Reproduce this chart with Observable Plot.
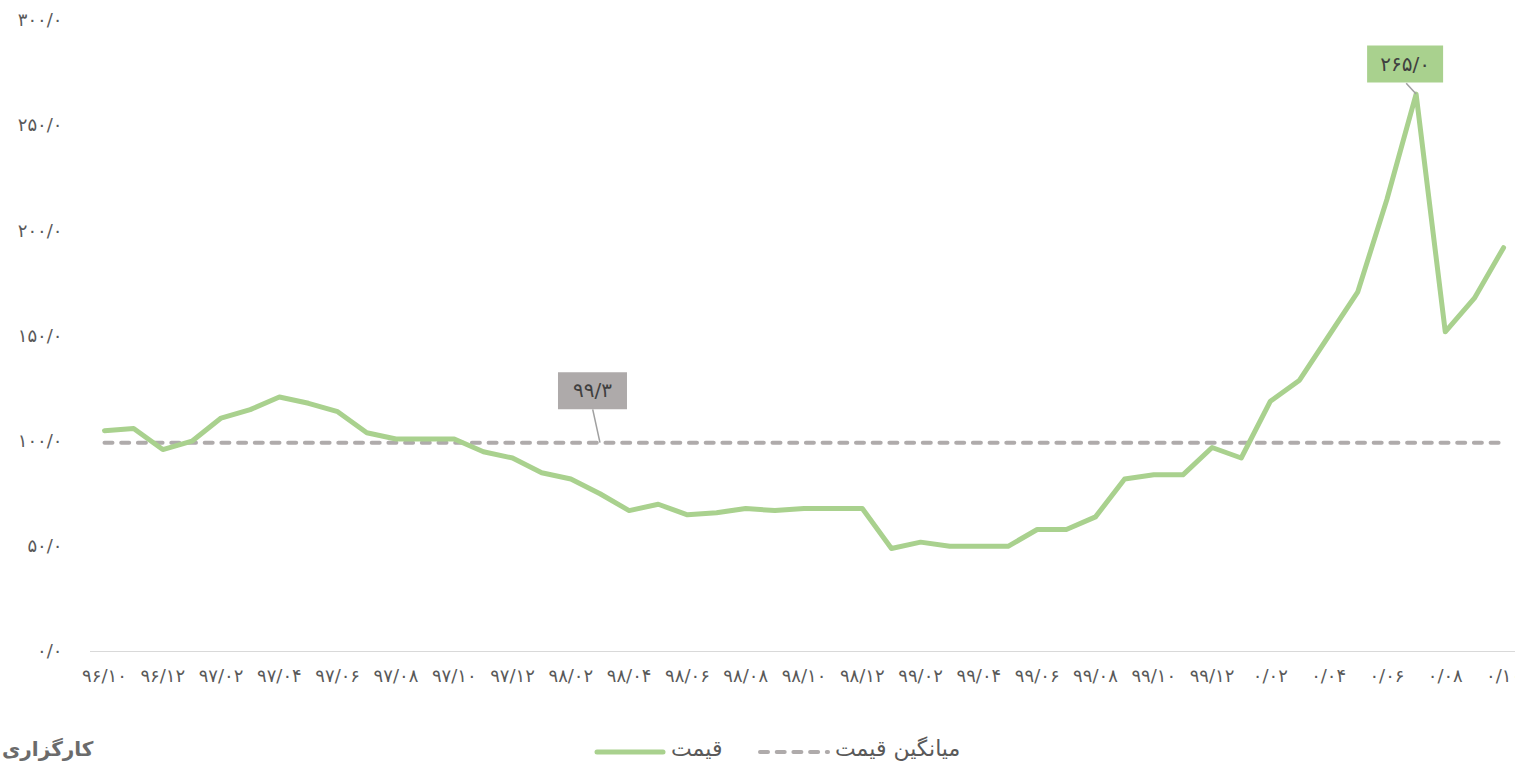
<!DOCTYPE html>
<html lang="fa">
<head>
<meta charset="utf-8">
<script src="https://cdn.jsdelivr.net/npm/d3@7"></script>
<script src="https://cdn.jsdelivr.net/npm/@observablehq/plot@0.6"></script>
<style>
  html, body { margin: 0; padding: 0; background: #fff; }
  body { width: 1515px; height: 763px; overflow: hidden; font-family: "DejaVu Sans", sans-serif; }
  #chart { width: 1515px; height: 701px; }
  #legend { position: relative; width: 1515px; height: 62px; overflow: hidden; }
  .lg { position: absolute; white-space: nowrap; color: #595959; font-size: 22px; line-height: 26px; }
  .logo { position: absolute; left: 2px; top: 36px; font-weight: bold; font-size: 20px; line-height: 24px; color: #6b6b6b; white-space: nowrap; }
</style>
</head>
<body>
<div id="chart"></div>
<div id="legend"></div>
<script>
// ---- data ----
const months = [
  "96/10","96/11","96/12",
  "97/01","97/02","97/03","97/04","97/05","97/06","97/07","97/08","97/09","97/10","97/11","97/12",
  "98/01","98/02","98/03","98/04","98/05","98/06","98/07","98/08","98/09","98/10","98/11","98/12",
  "99/01","99/02","99/03","99/04","99/05","99/06","99/07","99/08","99/09","99/10","99/11","99/12",
  "0/01","0/02","0/03","0/04","0/05","0/06","0/07","0/08","0/09","0/10"
];
const prices = [
  105, 106, 96,
  100, 111, 115, 121, 118, 114, 104, 101, 101, 101, 95, 92,
  85, 82, 75, 67, 70, 65, 66, 68, 67, 68, 68, 68,
  49, 52, 50, 50, 50, 58, 58, 64, 82, 84, 84, 97,
  92, 119, 129, 150, 171, 215, 265, 152, 168, 192
];
const meanPrice = 99.3;
const yTicks = [0, 50, 100, 150, 200, 250, 300];
const seriesNames = ["قیمت", "میانگین قیمت"];
const logoText = "کارگزاری";

// ---- helpers ----
const faDigits = "۰۱۲۳۴۵۶۷۸۹";
const toFa = s => String(s).replace(/\d/g, d => faDigits[+d]).replace(/[.]/g, "/");
const rectSymbol = (w, h) => ({ draw(ctx) { ctx.rect(-w / 2, -h / 2, w, h); ctx.closePath(); } });

const data = months.map((m, i) => ({ i, month: m, price: prices[i] }));
const evenIdx = d3.range(0, months.length, 2);

const annotations = [
  { i: 17, v: meanPrice, label: toFa(meanPrice.toFixed(1)), fill: "#aeaaaa", w: 69, h: 37, dx: -7.5, dy: -52, lx: -0.25, ly: 15.8 },
  { i: 45, v: 265, label: toFa((265).toFixed(1)), fill: "#a9d18e", w: 76, h: 37, dx: -11, dy: -30, lx: -0.34, ly: 5.2 }
];

const chart = Plot.plot({
  width: 1515,
  height: 701,
  marginTop: 20,
  marginLeft: 90,
  marginRight: 0,
  marginBottom: 50,
  style: { fontFamily: "DejaVu Sans, sans-serif", fontSize: "18px", color: "#595959", background: "#ffffff", overflow: "visible" },
  x: { domain: [-0.48, 48.41], ticks: evenIdx, tickFormat: i => toFa(months[i]), tickSize: 0, tickPadding: 18, label: null },
  y: { domain: [0, 300], ticks: yTicks, tickFormat: v => toFa(v.toFixed(1)), tickSize: 0, tickPadding: 28, label: null },
  marks: [
    Plot.ruleY([0], { stroke: "#d9d9d9", strokeWidth: 1 }),
    Plot.line(data, { x: "i", y: () => meanPrice, stroke: "#afabab", strokeWidth: 4, strokeDasharray: "8,8.7", strokeLinecap: "round" }),
    Plot.line(data, { x: "i", y: "price", stroke: "#a9d18e", strokeWidth: 5, strokeLinejoin: "round", strokeLinecap: "round" }),
    Plot.link(annotations, { x1: "i", y1: "v", x2: d => d.i + d.lx, y2: d => d.v + d.ly, stroke: "#a0a0a0", strokeWidth: 1.5 }),
    Plot.dot([annotations[0]], { x: "i", y: "v", dx: annotations[0].dx, dy: annotations[0].dy, symbol: rectSymbol(annotations[0].w, annotations[0].h), fill: "fill", stroke: "none", r: 10 }),
    Plot.dot([annotations[1]], { x: "i", y: "v", dx: annotations[1].dx, dy: annotations[1].dy, symbol: rectSymbol(annotations[1].w, annotations[1].h), fill: "fill", stroke: "none", r: 10 }),
    Plot.text([annotations[0]], { x: "i", y: "v", text: "label", dx: annotations[0].dx, dy: annotations[0].dy, fill: "#404040", fontSize: 20 }),
    Plot.text([annotations[1]], { x: "i", y: "v", text: "label", dx: annotations[1].dx, dy: annotations[1].dy, fill: "#404040", fontSize: 20 })
  ]
});
document.getElementById("chart").appendChild(chart);

// ---- legend ----
const legend = document.getElementById("legend");
legend.innerHTML = `
  <div class="logo">${logoText}</div>
  <svg width="1515" height="62" style="position:absolute;left:0;top:0">
    <line x1="597" x2="663" y1="51" y2="51" stroke="#a9d18e" stroke-width="5" stroke-linecap="round"/>
    <line x1="760" x2="828" y1="51" y2="51" stroke="#afabab" stroke-width="4" stroke-dasharray="8,8.7" stroke-linecap="round"/>
  </svg>
  <div class="lg" style="left:671px;top:35px;">${seriesNames[0]}</div>
  <div class="lg" style="left:835px;top:35px;">${seriesNames[1]}</div>
`;
</script>
</body>
</html>
